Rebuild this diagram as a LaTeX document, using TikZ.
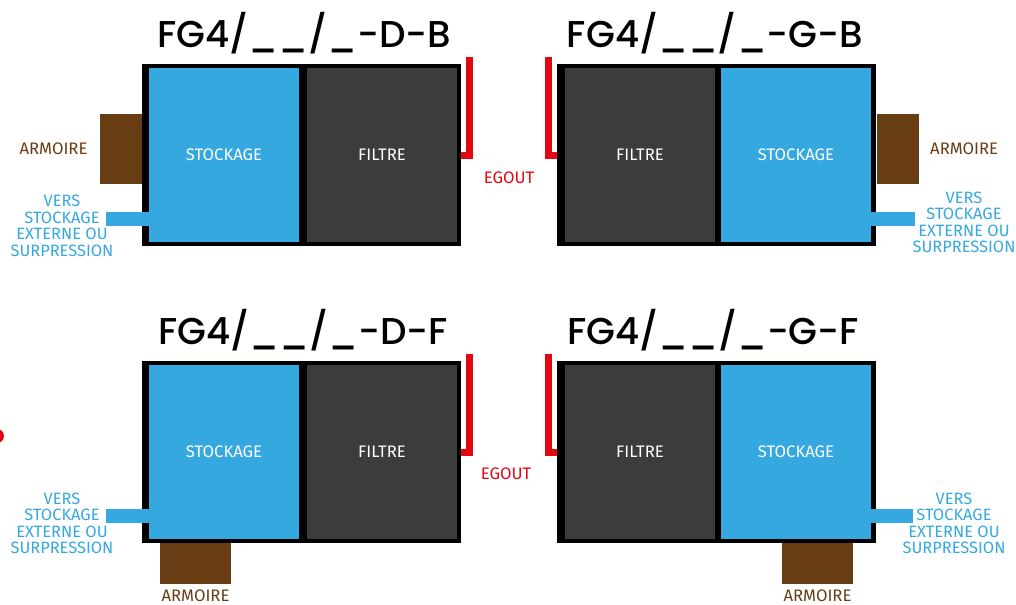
\documentclass[tikz,border=0pt]{standalone}
\usepackage{fontspec}
\setmainfont{Fira Sans}
\newfontfamily\titlefont{Poppins Medium}
\usetikzlibrary{positioning}
\definecolor{tankblue}{RGB}{54, 168, 224}
\definecolor{filtgray}{RGB}{60, 60, 59}
\definecolor{cabbrown}{RGB}{104, 61, 19}
\definecolor{egoutred}{RGB}{227, 6, 19}

\begin{document}
\begin{tikzpicture}[x=0.75pt, y=-0.75pt, font=\fontsize{12.5}{13}\selectfont,
    frame/.style={fill=black, inner sep=0, minimum width=239.25pt, minimum height=136.5pt},
    tank/.style={fill=tankblue, text=white, inner sep=0, minimum width=112.5pt, minimum height=130.5pt},
    filter/.style={tank, fill=filtgray},
    cabside/.style={fill=cabbrown, inner sep=0, minimum width=31.5pt, minimum height=52.5pt},
    cabbottom/.style={fill=cabbrown, inner sep=0, minimum width=53.25pt, minimum height=30.75pt},
    cablabel/.style={text=cabbrown, inner sep=0},
    pipe/.style={draw=tankblue, line width=10.5pt},
    pipelabel/.style={text=tankblue, align=center, inner sep=0, font=\fontsize{12.3}{12.4}\selectfont},
    egout/.style={draw=egoutred, line width=5.25pt},
    egoutlabel/.style={text=egoutred, inner sep=0},
    title/.style={inner sep=0, font=\titlefont\fontsize{28}{28}\selectfont}]
  \useasboundingbox (0,0) rectangle (1016,604);

  % FG4/__/_-D-B
  \node[title] (titleA) at (304,33) {FG4/\_\_/\_-D-B};
  \node[frame] (frameA) at (301.5,155) {};
  \node[tank] (tankA) at (224,155) {STOCKAGE};
  \node[filter] (filterA) at (382,155) {FILTRE};
  \node[cabside] (cabA) at (121,149) {};
  \node[cablabel, left=9pt of cabA] (armA) {ARMOIRE};
  \draw[pipe] (tankA.west) ++(0,64) -- ++(-43,0) coordinate (outA);
  \node[pipelabel] (versA) at (62,226) {VERS\\STOCKAGE\\EXTERNE OU\\SURPRESSION};
  \draw[egout] (frameA.east) -| ++(8,-98) coordinate (egtopA);
  \node[egoutlabel] (egoutA) at (509,178) {EGOUT};

  % FG4/__/_-G-B
  \node[title] (titleB) at (715,33) {FG4/\_\_/\_-G-B};
  \node[frame] (frameB) at (716.5,155) {};
  \node[filter] (filterB) at (640,155) {FILTRE};
  \node[tank] (tankB) at (796,155) {STOCKAGE};
  \node[cabside] (cabB) at (898,149) {};
  \node[cablabel, right=8pt of cabB] (armB) {ARMOIRE};
  \draw[pipe] (tankB.east) ++(0,64) -- ++(44,0) coordinate (outB);
  \node[pipelabel] (versB) at (964,222.5) {VERS\\STOCKAGE\\EXTERNE OU\\SURPRESSION};
  \draw[egout] (frameB.west) -| ++(-8,-98) coordinate (egtopB);

  % FG4/__/_-D-F
  \node[title] (titleC) at (303,330) {FG4/\_\_/\_-D-F};
  \node[frame] (frameC) at (301.5,452) {};
  \node[tank] (tankC) at (224,452) {STOCKAGE};
  \node[filter] (filterC) at (382,452) {FILTRE};
  \node[cabbottom] (cabC) at (195.5,563.5) {};
  \node[cablabel, below=4pt of cabC] (armC) {ARMOIRE};
  \draw[pipe] (tankC.west) ++(0,64) -- ++(-43,0) coordinate (outC);
  \node[pipelabel] (versC) at (62,523.5) {VERS\\STOCKAGE\\EXTERNE OU\\SURPRESSION};
  \draw[egout] (frameC.east) -| ++(8,-98) coordinate (egtopC);
  \node[egoutlabel] (egoutC) at (506,474) {EGOUT};
  \fill[egoutred] (-3,436) circle[radius=5.25pt];

  % FG4/__/_-G-F
  \node[title] (titleD) at (713,330) {FG4/\_\_/\_-G-F};
  \node[frame] (frameD) at (716.5,452) {};
  \node[filter] (filterD) at (640,452) {FILTRE};
  \node[tank] (tankD) at (796,452) {STOCKAGE};
  \node[cabbottom] (cabD) at (817.5,563.5) {};
  \node[cablabel, below=4pt of cabD] (armD) {ARMOIRE};
  \draw[pipe] (tankD.east) ++(0,64) -- ++(42,0) coordinate (outD);
  \node[pipelabel] (versD) at (954,523.5) {VERS\\STOCKAGE\\EXTERNE OU\\SURPRESSION};
  \draw[egout] (frameD.west) -| ++(-8,-98) coordinate (egtopD);
\end{tikzpicture}
\end{document}
